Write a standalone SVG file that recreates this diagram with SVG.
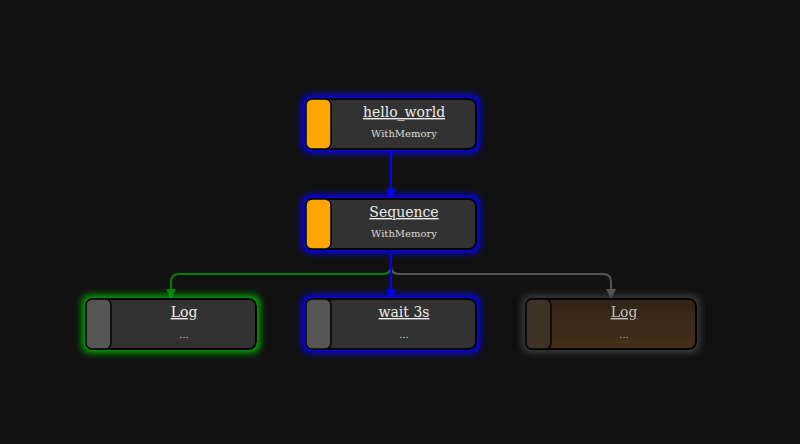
<svg xmlns="http://www.w3.org/2000/svg" width="800" height="444" viewBox="0 0 800 444">
<style>
.box{fill:#333333;stroke:#000;stroke-width:2}
.bar{stroke:#000;stroke-width:1.5}
.title{font-family:"DejaVu Serif","Liberation Serif",serif;font-size:14px;fill:#eeeeee;text-anchor:middle;text-decoration:underline}
.sub{font-family:"DejaVu Serif","Liberation Serif",serif;font-size:10px;fill:#dddddd;text-anchor:middle}
.edge{fill:none;stroke-width:2}
</style>
<defs>
<filter id="glowBlue" x="-20%" y="-60%" width="140%" height="220%">
<feMorphology in="SourceAlpha" operator="dilate" radius="3" result="d"/>
<feGaussianBlur in="d" stdDeviation="3.5" result="b"/>
<feFlood flood-color="#0000ff"/>
<feComposite in2="b" operator="in"/>
<feMerge><feMergeNode/><feMergeNode in="SourceGraphic"/></feMerge>
</filter>
<filter id="glowGreen" x="-20%" y="-60%" width="140%" height="220%">
<feMorphology in="SourceAlpha" operator="dilate" radius="3" result="d"/>
<feGaussianBlur in="d" stdDeviation="3.5" result="b"/>
<feFlood flood-color="#00aa00"/>
<feComposite in2="b" operator="in"/>
<feMerge><feMergeNode/><feMergeNode in="SourceGraphic"/></feMerge>
</filter>
<filter id="glowGray" x="-20%" y="-60%" width="140%" height="220%">
<feMorphology in="SourceAlpha" operator="dilate" radius="3" result="d"/>
<feGaussianBlur in="d" stdDeviation="3.5" result="b"/>
<feFlood flood-color="#444444"/>
<feComposite in2="b" operator="in"/>
<feMerge><feMergeNode/><feMergeNode in="SourceGraphic"/></feMerge>
</filter>
<linearGradient id="brown" x1="0" y1="0" x2="0" y2="1">
<stop offset="0" stop-color="#3a2a1c"/>
<stop offset="1" stop-color="#55361a"/>
</linearGradient>
<marker id="arrBlue" markerWidth="10" markerHeight="10" refX="10" refY="5" orient="auto" markerUnits="userSpaceOnUse"><path d="M0,0 L10,5 L0,10 Z" fill="#0000ff"/></marker>
<marker id="arrGreen" markerWidth="10" markerHeight="10" refX="10" refY="5" orient="auto" markerUnits="userSpaceOnUse"><path d="M0,0 L10,5 L0,10 Z" fill="#008000"/></marker>
<marker id="arrGray" markerWidth="10" markerHeight="10" refX="10" refY="5" orient="auto" markerUnits="userSpaceOnUse"><path d="M0,0 L10,5 L0,10 Z" fill="#555555"/></marker>
</defs>
<rect width="800" height="444" fill="#111111"/>
<g id="connectors">
<path class="edge" d="M391,150 L391,199" stroke="#0000ff" marker-end="url(#arrBlue)"/>
<path class="edge" d="M391,254 L391,266 Q391,274 383,274 L179,274 Q171,274 171,282 L171,299" stroke="#008000" marker-end="url(#arrGreen)"/>
<path class="edge" d="M391,254 L391,266 Q391,274 399,274 L603,274 Q611,274 611,282 L611,299" stroke="#555555" marker-end="url(#arrGray)"/>
<path class="edge" d="M391,254 L391,299" stroke="#0000ff" marker-end="url(#arrBlue)"/>
</g>
<g id="node-hello_world">
<rect class="box" x="306" y="99" width="170" height="50" rx="7" filter="url(#glowBlue)"/>
<rect class="bar" x="306" y="99" width="25" height="50" rx="6" fill="#ffa500"/>
<text class="title" x="404" y="117">hello_world</text>
<text class="sub" x="404" y="137">WithMemory</text>
</g>
<g id="node-sequence">
<rect class="box" x="306" y="199" width="170" height="50" rx="7" filter="url(#glowBlue)"/>
<rect class="bar" x="306" y="199" width="25" height="50" rx="6" fill="#ffa500"/>
<text class="title" x="404" y="217">Sequence</text>
<text class="sub" x="404" y="237">WithMemory</text>
</g>
<g id="node-log1">
<rect class="box" x="86" y="299" width="170" height="50" rx="7" filter="url(#glowGreen)"/>
<rect class="bar" x="86" y="299" width="25" height="50" rx="6" fill="#555555"/>
<text class="title" x="184" y="317">Log</text>
<text class="sub" x="184" y="338">...</text>
</g>
<g id="node-wait">
<rect class="box" x="306" y="299" width="170" height="50" rx="7" filter="url(#glowBlue)"/>
<rect class="bar" x="306" y="299" width="25" height="50" rx="6" fill="#555555"/>
<text class="title" x="404" y="317">wait 3s</text>
<text class="sub" x="404" y="338">...</text>
</g>
<g id="node-log2" opacity="0.8">
<rect x="526" y="299" width="170" height="50" rx="7" fill="url(#brown)" stroke="#000" stroke-width="2" filter="url(#glowGray)"/>
<rect class="bar" x="526" y="299" width="25" height="50" rx="6" fill="#4a3a2c"/>
<text class="title" x="624" y="317">Log</text>
<text class="sub" x="624" y="338">...</text>
</g>
</svg>
